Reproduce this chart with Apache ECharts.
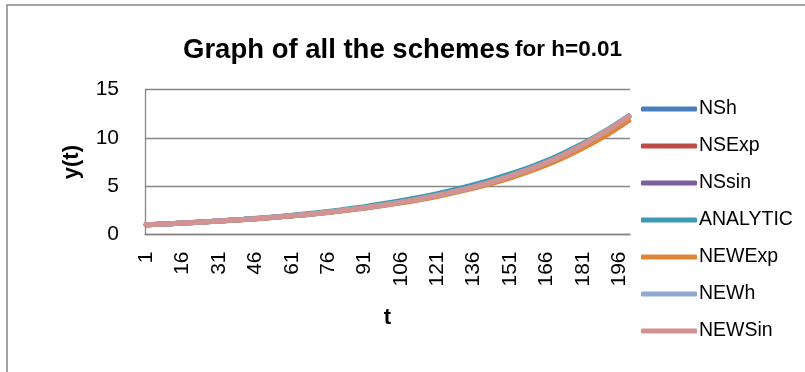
<!DOCTYPE html>
<html>
<head>
<meta charset="utf-8">
<script src="https://cdn.jsdelivr.net/npm/echarts@6/dist/echarts.min.js"></script>
<style>
  html, body { margin: 0; padding: 0; background: #fff; }
  #graph { width: 805px; height: 372px; }
</style>
</head>
<body>
<div id="graph"></div>
<script>
// step numbers on the x axis (1..200)
var steps = [];
for (var i = 1; i <= 200; i++) steps.push(String(i));

var readSteps = [1, 11, 21, 31, 41, 51, 61, 71, 81, 91, 101, 111, 121, 131, 141, 151, 161, 171, 181, 191, 200];

var NSh      = [1.00, 1.12, 1.25, 1.39, 1.55, 1.73, 1.94, 2.18, 2.46, 2.78, 3.15, 3.57, 4.06, 4.63, 5.29, 6.06, 6.96, 8.01, 9.31, 10.77, 12.27];
var NSExp    = [1.00, 1.12, 1.25, 1.39, 1.55, 1.73, 1.93, 2.17, 2.45, 2.77, 3.13, 3.55, 4.04, 4.61, 5.27, 6.03, 6.93, 7.98, 9.27, 10.72, 12.21];
var NSsin    = [1.00, 1.12, 1.25, 1.39, 1.55, 1.73, 1.94, 2.18, 2.46, 2.78, 3.14, 3.56, 4.05, 4.62, 5.28, 6.04, 6.94, 7.99, 9.29, 10.74, 12.24];
var ANALYTIC = [1.00, 1.12, 1.26, 1.41, 1.58, 1.77, 1.99, 2.25, 2.55, 2.89, 3.28, 3.73, 4.24, 4.83, 5.50, 6.27, 7.15, 8.18, 9.42, 10.83, 12.28];
var NEWExp   = [1.00, 1.12, 1.24, 1.38, 1.53, 1.71, 1.91, 2.14, 2.41, 2.72, 3.07, 3.47, 3.94, 4.49, 5.12, 5.85, 6.71, 7.72, 8.93, 10.32, 11.78];
var NEWh     = [1.00, 1.12, 1.25, 1.39, 1.55, 1.73, 1.94, 2.18, 2.46, 2.78, 3.14, 3.56, 4.05, 4.62, 5.28, 6.05, 6.95, 8.00, 9.30, 10.75, 12.25];
var NEWSin   = [1.00, 1.12, 1.25, 1.39, 1.55, 1.73, 1.94, 2.18, 2.46, 2.78, 3.14, 3.56, 4.05, 4.62, 5.28, 6.05, 6.95, 8.00, 9.30, 10.75, 12.25];

var seriesNames = ['NSh', 'NSExp', 'NSsin', 'ANALYTIC', 'NEWExp', 'NEWh', 'NEWSin'];
var seriesValues = [NSh, NSExp, NSsin, ANALYTIC, NEWExp, NEWh, NEWSin];
var colors = ['#4A7EBB', '#BE4B48', '#7D5FA0', '#3E9AB3', '#DE8538', '#8EAAD3', '#D29392'];

var FONT = '"Liberation Sans", Arial, sans-serif';
var GREY = '#868686';

var chartDom = document.getElementById('graph');
var myChart = echarts.init(chartDom);

var series = seriesNames.map(function (name, k) {
    return {
        name: name,
        type: 'line',
        smooth: 0.3,
        showSymbol: false,
        symbol: 'none',
        data: readSteps.map(function (s, j) { return [String(s), seriesValues[k][j]]; }),
        lineStyle: { width: 5, color: colors[k], cap: 'round' },
        itemStyle: { color: colors[k] }
    };
});

var option = {
    animation: false,
    color: colors,
    title: {
        text: '{a|Graph of all the schemes} {b|for h=0.01}',
        left: 'center',
        top: 31,
        textStyle: {
            rich: {
                a: { fontFamily: FONT, fontWeight: 'bold', fontSize: 27.5, color: '#000' },
                b: { fontFamily: FONT, fontWeight: 'bold', fontSize: 22.5, color: '#000' }
            }
        }
    },
    legend: {
        orient: 'vertical',
        left: 641,
        top: 99,
        padding: 0,
        icon: 'roundRect',
        itemWidth: 56,
        itemHeight: 5,
        itemGap: 17,
        textStyle: { fontFamily: FONT, fontSize: 19.5, color: '#000', padding: [0, 0, 0, -3], lineHeight: 20 },
        data: seriesNames
    },
    grid: { left: 145, right: 175, top: 89.7, bottom: 137.5, containLabel: false },
    xAxis: {
        type: 'category',
        data: steps,
        boundaryGap: true,
        name: 't',
        nameLocation: 'middle',
        nameGap: 72,
        nameTextStyle: { fontFamily: FONT, fontWeight: 'bold', fontSize: 22, color: '#000' },
        axisLine: { lineStyle: { color: GREY, width: 1.3 } },
        axisTick: { show: false },
        axisLabel: { interval: 14, rotate: 90, margin: 17, fontFamily: FONT, fontSize: 21, color: '#000' }
    },
    yAxis: {
        type: 'value',
        min: 0,
        max: 15,
        interval: 5,
        name: 'y(t)',
        nameLocation: 'middle',
        nameGap: 62,
        nameRotate: 90,
        nameTextStyle: { fontFamily: FONT, fontWeight: 'bold', fontSize: 22, color: '#000' },
        axisLine: { show: true, lineStyle: { color: GREY, width: 1.3 } },
        axisTick: { show: false },
        splitLine: { lineStyle: { color: GREY, width: 1.3 } },
        axisLabel: { margin: 26, fontFamily: FONT, fontSize: 21, color: '#000' }
    },
    graphic: [{
        type: 'rect',
        shape: { x: 7, y: 5, width: 830, height: 400 },
        style: { fill: 'none', stroke: GREY, lineWidth: 1.5 },
        silent: true
    }],
    series: series
};

myChart.setOption(option);
</script>
</body>
</html>
